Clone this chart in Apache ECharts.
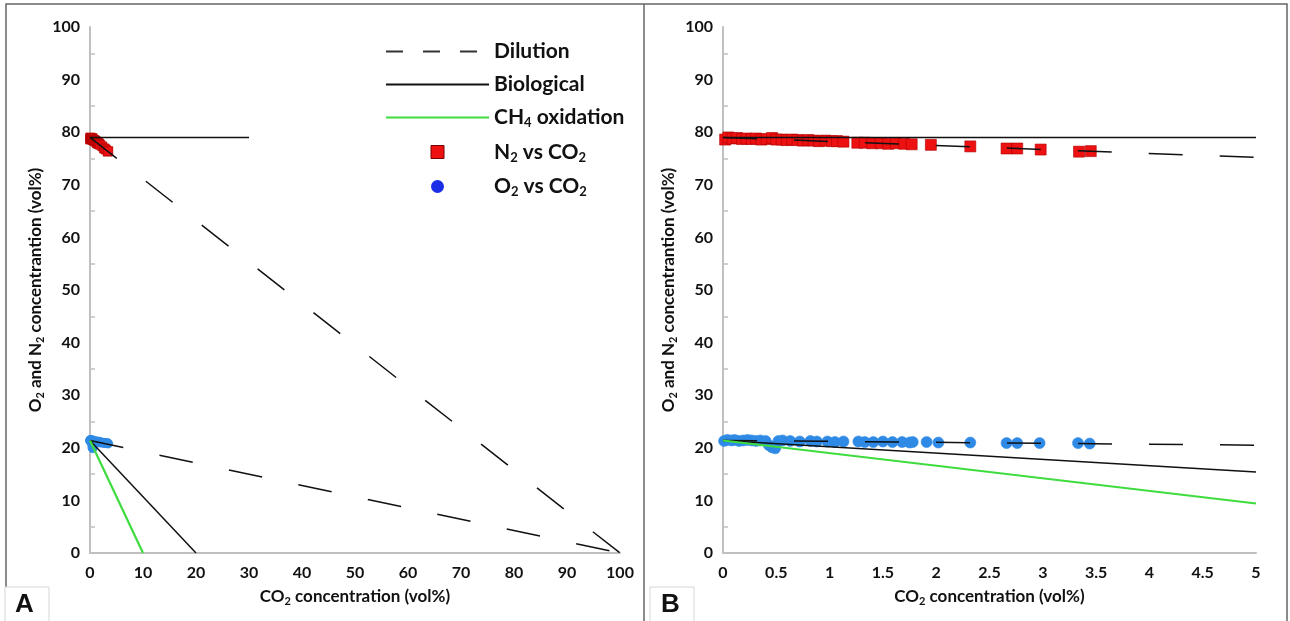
<!DOCTYPE html>
<html>
<head>
<meta charset="utf-8">
<script src="https://cdn.jsdelivr.net/npm/echarts@6/dist/echarts.min.js"></script>
<style>
  html, body { margin: 0; padding: 0; background: #fff; }
  #chart { width: 1290px; height: 621px; }
</style>
</head>
<body>
<div id="chart"></div>
<script>
// measured points (CO2 vol%, gas vol%)
const n2X = [0.02, 0.05, 0.09, 0.13, 0.18, 0.22, 0.27, 0.31, 0.36, 0.41, 0.46, 0.5, 0.55, 0.6, 0.65, 0.7, 0.75, 0.8, 0.85, 0.9, 0.96, 1.02, 1.07, 1.13, 1.26, 1.33, 1.4, 1.48, 1.55, 1.62, 1.7, 1.77, 1.95, 2.32, 2.66, 2.76, 2.98, 3.34, 3.45]
const n2Y = [78.6, 79.0, 78.8, 78.9, 78.7, 78.8, 78.7, 78.8, 78.6, 78.7, 78.9, 78.6, 78.6, 78.5, 78.6, 78.5, 78.4, 78.5, 78.4, 78.3, 78.4, 78.3, 78.3, 78.2, 78.0, 78.0, 77.9, 77.9, 77.8, 77.9, 77.8, 77.7, 77.6, 77.3, 76.9, 76.9, 76.7, 76.3, 76.4]
const o2X = [0.01, 0.04, 0.08, 0.11, 0.15, 0.19, 0.23, 0.27, 0.31, 0.35, 0.4, 0.43, 0.46, 0.49, 0.52, 0.56, 0.63, 0.72, 0.82, 0.88, 0.98, 1.05, 1.13, 1.27, 1.33, 1.41, 1.5, 1.59, 1.68, 1.75, 1.78, 1.91, 2.02, 2.32, 2.66, 2.76, 2.97, 3.33, 3.44]
const o2Y = [21.3, 21.5, 21.4, 21.5, 21.3, 21.4, 21.5, 21.4, 21.3, 21.4, 21.3, 20.5, 20.1, 19.9, 21.3, 21.4, 21.3, 21.2, 21.3, 21.2, 21.2, 21.1, 21.2, 21.2, 21.1, 21.1, 21.2, 21.1, 21.1, 21.0, 21.1, 21.1, 21.0, 21.0, 20.9, 20.9, 20.9, 20.9, 20.8]

// trend lines, panel A (0-100) and panel B (0-5)
const dilN2A = [[0, 79], [100, 0]]
const dilO2A = [[0, 21.4], [100, 0]]
const bioN2A = [[0, 79], [30, 79]]
const bioO2A = [[0, 21.4], [20, 0]]
const ch4A = [[0, 21.4], [10, 0]]
const dilN2B = [[0, 79], [5, 75.2]]
const dilO2B = [[0, 21.4], [5, 20.5]]
const bioN2B = [[0, 79], [5, 79]]
const bioO2B = [[0, 21.4], [5, 15.4]]
const ch4B = [[0, 21.4], [5, 9.4]]

const xTicksA = [0, 10, 100]   // min, interval, max
const xTicksB = [0, 0.5, 5]
const yTicks = [0, 10, 100]

const FONT = 'Lato'
const pts = (xs, ys) => xs.map((x, i) => [x, ys[i]])

const sub = {
  t: { fontFamily: FONT, fontWeight: 'bold', fontSize: 17, color: '#111', lineHeight: 21 },
  s: { fontFamily: FONT, fontWeight: 'bold', fontSize: 11, color: '#111', lineHeight: 8, verticalAlign: 'bottom' }
}
const legSub = {
  t: { fontFamily: FONT, fontWeight: 'bold', fontSize: 21, color: '#111', lineHeight: 24 },
  s: { fontFamily: FONT, fontWeight: 'bold', fontSize: 13, color: '#111', lineHeight: 10, verticalAlign: 'bottom' }
}
const legendText = {
  'Dilution': '{t|Dilution}',
  'Biological': '{t|Biological}',
  'CH4 oxidation': '{t|CH}{s|4}{t| oxidation}',
  'N2 vs CO2': '{t|N}{s|2}{t| vs CO}{s|2}',
  'O2 vs CO2': '{t|O}{s|2}{t| vs CO}{s|2}'
}

function xAxis(idx, t) {
  return {
    type: 'value', gridIndex: idx, min: t[0], interval: t[1], max: t[2],
    name: '{t|CO}{s|2}{t| concentration (vol%)}',
    nameLocation: 'middle', nameGap: 33,
    nameTextStyle: { rich: sub },
    axisLine: { lineStyle: { color: '#c0c0c0', width: 2 } },
    axisTick: { show: false },
    axisLabel: { fontFamily: FONT, fontWeight: 'bold', fontSize: 16, color: '#111', margin: 12 },
    splitLine: { show: false }
  }
}
function yAxis(idx) {
  return {
    type: 'value', gridIndex: idx, min: yTicks[0], interval: yTicks[1], max: yTicks[2],
    name: '{t|O}{s|2}{t| and N}{s|2}{t| concentrantion (vol%)}',
    nameLocation: 'middle', nameGap: 44,
    nameTextStyle: { rich: sub },
    axisLine: { show: true, lineStyle: { color: '#c0c0c0', width: 2 } },
    axisTick: { show: false, inside: true },
    minorTick: { show: true, splitNumber: 2, length: 5, lineStyle: { color: '#c0c0c0', width: 1.5 } },
    axisLabel: { fontFamily: FONT, fontWeight: 'bold', fontSize: 16, color: '#111', margin: 10 },
    splitLine: { show: false }
  }
}

function lineSeries(name, data, idx, color, dashed, width) {
  return {
    name: name, type: 'line', data: data, xAxisIndex: idx, yAxisIndex: idx,
    symbol: 'none', z: 5, silent: true,
    lineStyle: { color: color, width: width || 1.5, type: dashed ? [34, 37] : 'solid' },
    itemStyle: { color: color }
  }
}
function scatterSeries(name, data, idx, symbol, color, border, size) {
  return {
    name: name, type: 'scatter', data: data, xAxisIndex: idx, yAxisIndex: idx,
    symbol: symbol, symbolSize: size, z: 3,
    itemStyle: { color: color, borderColor: border, borderWidth: 0.6, opacity: 1 }
  }
}

const chart = echarts.init(document.getElementById('chart'))
const option = {
  animation: false,
  grid: [
    { left: 90, right: 670, top: 27, bottom: 68 },
    { left: 723, right: 34, top: 27, bottom: 68 }
  ],
  xAxis: [xAxis(0, xTicksA), xAxis(1, xTicksB)],
  yAxis: [yAxis(0), yAxis(1)],
  legend: {
    orient: 'vertical', left: 380, top: 36,
    itemWidth: 103, itemHeight: 13, itemGap: 12,
    formatter: n => legendText[n],
    textStyle: { rich: legSub },
    data: [
      { name: 'Dilution', lineStyle: { type: [17, 20], color: '#333', width: 2 }, itemStyle: { opacity: 0 } },
      { name: 'Biological', lineStyle: { color: '#111', width: 2 }, itemStyle: { opacity: 0 } },
      { name: 'CH4 oxidation', lineStyle: { color: '#3fdc3f', width: 2 }, itemStyle: { opacity: 0 } },
      { name: 'N2 vs CO2', icon: 'path://M0,0h10v10h-10z', itemStyle: { color: '#ee1111', borderColor: '#700', borderWidth: 1 } },
      { name: 'O2 vs CO2', icon: 'circle', itemStyle: { color: '#1a2ee8', borderWidth: 0 } }
    ]
  },
  series: [
    scatterSeries('N2 vs CO2', pts(n2X, n2Y), 0, 'rect', '#ee1111', '#b00000', 9),
    scatterSeries('O2 vs CO2', pts(o2X, o2Y), 0, 'circle', '#2f8ae6', '#2f8ae6', 9),
    lineSeries('Dilution', dilN2A, 0, '#111', true),
    lineSeries('Dilution', dilO2A, 0, '#111', true),
    lineSeries('Biological', bioN2A, 0, '#111', false),
    lineSeries('Biological', bioO2A, 0, '#111', false),
    lineSeries('CH4 oxidation', ch4A, 0, '#3fdc3f', false, 2.2),
    scatterSeries('N2 vs CO2', pts(n2X, n2Y), 1, 'rect', '#ee1111', '#b00000', 11),
    scatterSeries('O2 vs CO2', pts(o2X, o2Y), 1, 'circle', '#2f8ae6', '#2f8ae6', 11),
    lineSeries('Dilution', dilN2B, 1, '#111', true),
    lineSeries('Dilution', dilO2B, 1, '#111', true),
    lineSeries('Biological', bioN2B, 1, '#111', false),
    lineSeries('Biological', bioO2B, 1, '#111', false),
    lineSeries('CH4 oxidation', ch4B, 1, '#3fdc3f', false, 2)
  ],
  graphic: [
    { type: 'rect', shape: { x: 6, y: 4, width: 1281, height: 640 }, style: { fill: 'none', stroke: '#666', lineWidth: 1.5 }, silent: true },
    { type: 'line', shape: { x1: 644, y1: 4, x2: 644, y2: 621 }, style: { stroke: '#666', lineWidth: 1.5 }, silent: true },
    { type: 'rect', shape: { x: 5, y: 587, width: 44, height: 40 }, style: { fill: '#fff', stroke: '#d6d6d6', lineWidth: 1 } },
    { type: 'text', left: 15, top: 592, style: { text: 'A', font: 'bold 26px "Liberation Sans"', fill: '#111' } },
    { type: 'rect', shape: { x: 650, y: 587, width: 44, height: 40 }, style: { fill: '#fff', stroke: '#d6d6d6', lineWidth: 1 } },
    { type: 'text', left: 661, top: 592, style: { text: 'B', font: 'bold 26px "Liberation Sans"', fill: '#111' } }
  ]
}
chart.setOption(option)
</script>
</body>
</html>
